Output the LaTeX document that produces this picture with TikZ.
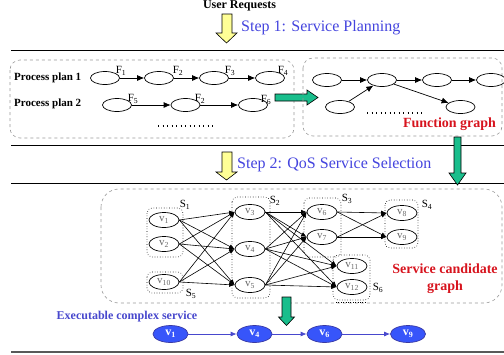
\documentclass[tikz,border=0pt]{standalone}
\usepackage{fontspec}
\setmainfont{Liberation Serif}
\usetikzlibrary{arrows.meta,shapes.geometric}
\definecolor{stepblue}{RGB}{68,68,222}
\definecolor{fred}{RGB}{215,20,30}
\definecolor{gfill}{RGB}{25,190,140}
\definecolor{yfill}{RGB}{255,255,150}
\definecolor{bfill}{RGB}{55,85,250}
\definecolor{bline}{RGB}{72,72,205}
\begin{document}
\begin{tikzpicture}[x=1pt,y=-1pt,
  fe/.style={ellipse, draw, line width=0.7pt, minimum width=29pt, minimum height=13pt, inner sep=0pt},
  ce/.style={ellipse, draw, line width=0.7pt, minimum width=30pt, minimum height=15pt, inner sep=0pt, font=\fontsize{11}{11}\selectfont, text=black!60},
  be/.style={ellipse, draw=bline!80!black, fill=bfill, line width=0.7pt, minimum width=35pt, minimum height=17pt, inner sep=0pt, text=white, font=\bfseries\fontsize{12}{12}\selectfont},
  arr/.style={-{Latex[length=7pt,width=6pt]}, line width=0.7pt},
  carr/.style={-{Latex[length=5.5pt,width=4.5pt]}, line width=0.6pt},
  barr/.style={-{Latex[length=6pt,width=5pt]}, line width=0.8pt, draw=bline, fill=bline},
  grp/.style={draw, dotted, rounded corners=5pt, line width=0.6pt},
  dbox/.style={draw=black!40, dashed, rounded corners=10pt, line width=0.6pt},
  lbl/.style={inner sep=0pt, font=\fontsize{11}{11}\selectfont},
  ptext/.style={inner sep=0pt, anchor=west, font=\bfseries\fontsize{11}{11}\selectfont},
  steptext/.style={inner sep=0pt, anchor=base west, text=stepblue, font=\fontsize{16}{16}\selectfont},
  rtext/.style={inner sep=0pt, text=fred, align=center, font=\bfseries\fontsize{14}{17}\selectfont},
  sepline/.style={line width=0.8pt, draw=black},
  blockarrow/.style={draw=black, line width=0.6pt},
  dotrow/.style={line width=1.3pt, dash pattern=on 1.3pt off 3.2pt}
]
\useasboundingbox (0,0) rectangle (504,354);

% title and step 1
\node[inner sep=0pt, anchor=base, font=\bfseries\fontsize{12}{12}\selectfont] (user) at (239.5,8.5) {User Requests};
\draw[blockarrow, fill=yfill] (222,14) -- (232,14) -- (232,33) -- (237,33) -- (226.5,43) -- (216,33) -- (222,33) -- cycle;
\node[steptext] (step1) at (241,31.5) {Step 1: Service Planning};

\draw[sepline] (11,50) -- (504,50);

% process plans box
\draw[dbox] (10,60) rectangle (294,138);
\node[ptext] (pp1) at (14,78) {Process plan 1};
\node[ptext] (pp2) at (14,104) {Process plan 2};

\node[fe] (f1) at (105,78) {};
\node[fe] (f2) at (159,78) {};
\node[fe] (f3) at (214,78) {};
\node[fe] (f4) at (270,78) {};
\node[lbl] (lf1) at (121,71) {F\textsubscript{1}};
\node[lbl] (lf2) at (178,71) {F\textsubscript{2}};
\node[lbl] (lf3) at (230,71) {F\textsubscript{3}};
\node[lbl] (lf4) at (283,71) {F\textsubscript{4}};
\draw[arr] (f1) -- (f2);
\draw[arr] (f2) -- (f3);
\draw[arr] (f3) -- (f4);

\node[fe] (f5) at (117,105) {};
\node[fe] (f2b) at (185.5,105) {};
\node[fe] (f6) at (253,105) {};
\node[lbl] (lf5) at (133,99) {F\textsubscript{5}};
\node[lbl] (lf2b) at (200,99) {F\textsubscript{2}};
\node[lbl] (lf6) at (266,100) {F\textsubscript{6}};
\draw[arr] (f5) -- (f2b);
\draw[arr] (f2b) -- (f6);
\coordinate (d1a) at (158,126);
\coordinate (d1b) at (213,126);
\draw[dotrow] (d1a) -- (d1b);

% green arrow right
\draw[blockarrow, fill=gfill] (275,94) -- (307,94) -- (307,90) -- (318,97.5) -- (307,105) -- (307,101) -- (275,101) -- cycle;

% function graph box
\draw[dbox] (303,58) rectangle (502,136);
\node[fe] (r1) at (327,80) {};
\node[fe] (r2) at (382,80) {};
\node[fe] (r3) at (437,80) {};
\node[fe] (r4) at (491,80) {};
\node[fe] (r5) at (340,107) {};
\node[fe] (r6) at (460.5,107) {};
\draw[arr] (r1) -- (r2);
\draw[arr] (r2) -- (r3);
\draw[arr] (r3) -- (r4);
\draw[arr] (r5) -- (r2);
\draw[arr] (r2) -- (r6);
\coordinate (d2a) at (367,113);
\coordinate (d2b) at (422,113);
\draw[dotrow] (d2a) -- (d2b);
\node[rtext] (fg) at (449.5,124) {Function graph};

% step 2
\draw[sepline] (11,145) -- (504,145);
\draw[blockarrow, fill=yfill] (222,152) -- (232,152) -- (232,172) -- (237,172) -- (226.5,180) -- (216,172) -- (222,172) -- cycle;
\node[steptext] (step2) at (237,168) {Step 2: QoS Service Selection};
\draw[sepline] (11,183) -- (504,183);
\draw[blockarrow, fill=gfill] (454,137) -- (461,137) -- (461,173) -- (466,173) -- (457.5,185) -- (449,173) -- (454,173) -- cycle;

% candidate graph box
\draw[draw=black!40, dashed, rounded corners=18pt, line width=0.6pt] (101,189) rectangle (502,303);
\coordinate (d3a) at (336,302);
\coordinate (d3b) at (365,302);
\draw[line width=0.8pt, dash pattern=on 0.8pt off 1.6pt] (d3a) -- (d3b);

\draw[grp] (147,208) rectangle (183,257);
\draw[grp] (147,272) rectangle (183,293);
\draw[grp] (232,197) rectangle (270,298);
\draw[grp] (304,198) rectangle (341,257);
\draw[grp] (385,200) rectangle (418,248);
\draw[grp] (333,255) rectangle (370,300);

\node[ce] (c1) at (164,220) {v\textsubscript{1}};
\node[ce] (c2) at (164,244) {v\textsubscript{2}};
\node[ce] (c10) at (164,282) {v\textsubscript{10}};
\node[ce] (c3) at (250,212) {v\textsubscript{3}};
\node[ce] (c4) at (250,249) {v\textsubscript{4}};
\node[ce] (c5) at (250,285) {v\textsubscript{5}};
\node[ce] (c6) at (322,212) {v\textsubscript{6}};
\node[ce] (c7) at (322,237) {v\textsubscript{7}};
\node[ce] (c8) at (402,213) {v\textsubscript{8}};
\node[ce] (c9) at (402,237) {v\textsubscript{9}};
\node[ce] (c11) at (352,266) {v\textsubscript{11}};
\node[ce] (c12) at (352,287) {v\textsubscript{12}};

\node[lbl] (s1) at (185,205) {S\textsubscript{1}};
\node[lbl] (s2) at (275,201) {S\textsubscript{2}};
\node[lbl] (s3) at (347,199) {S\textsubscript{3}};
\node[lbl] (s4) at (427,205) {S\textsubscript{4}};
\node[lbl] (s5) at (191,294) {S\textsubscript{5}};
\node[lbl] (s6) at (378,288) {S\textsubscript{6}};

\foreach \s in {c1,c2,c10} \foreach \t in {c3,c4,c5} \draw[carr] (\s.east) -- (\t.west);
\foreach \s in {c3,c4,c5} \foreach \t in {c6,c7,c11,c12} \draw[carr] (\s.east) -- (\t.west);
\foreach \s in {c6,c7} \foreach \t in {c8,c9} \draw[carr] (\s.east) -- (\t.west);

\node[rtext] (scg) at (445,279) {Service candidate\\graph};

% green arrow down to result
\draw[blockarrow, fill=gfill] (282,297) -- (291,297) -- (291,317) -- (294.5,317) -- (286.5,325.5) -- (278.5,317) -- (282,317) -- cycle;

% executable complex service
\node[inner sep=0pt, text=bline, font=\bfseries\fontsize{12}{12}\selectfont] (ecs) at (127,317) {Executable complex service};
\node[be] (b1) at (170.5,334) {v\textsubscript{1}};
\node[be] (b4) at (254.5,334) {v\textsubscript{4}};
\node[be] (b6) at (324.5,334) {v\textsubscript{6}};
\node[be] (b9) at (408,334) {v\textsubscript{9}};
\draw[barr] (b1) -- (b4);
\draw[barr] (b4) -- (b6);
\draw[barr] (b6) -- (b9);

\draw[line width=2pt, draw=black!65] (11,352) -- (504,352);
\end{tikzpicture}
\end{document}
